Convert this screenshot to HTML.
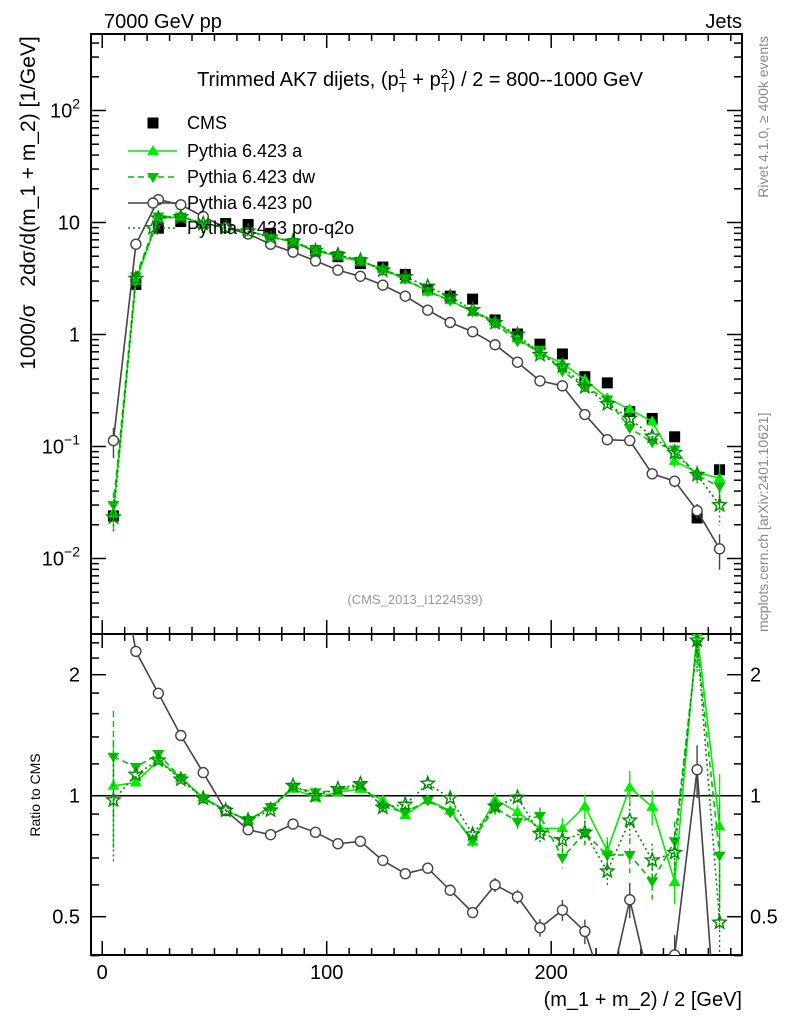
<!DOCTYPE html>
<html><head><meta charset="utf-8"><style>
html,body{margin:0;padding:0;background:#fff;width:786px;height:1024px;overflow:hidden}
svg{display:block;font-family:"Liberation Sans",sans-serif}
</style></head><body>
<svg id="c" width="786" height="1024" viewBox="0 0 786 1024">
<g>
<text x="104" y="28" font-size="20">7000 GeV pp</text>
<text x="742" y="28" font-size="20" text-anchor="end">Jets</text>
<text x="420" y="86" font-size="20" text-anchor="middle">Trimmed AK7 dijets, (p<tspan font-size="13" dy="-8">1</tspan><tspan font-size="13" dx="-7" dy="14">T</tspan><tspan dy="-6"> + p</tspan><tspan font-size="13" dy="-8">2</tspan><tspan font-size="13" dx="-7" dy="14">T</tspan><tspan dy="-6">) / 2 = 800--1000 GeV</tspan></text>
<text x="415" y="604" font-size="13" fill="#999" text-anchor="middle">(CMS_2013_I1224539)</text>
<text xml:space="preserve" style="white-space:pre" transform="translate(35,203) rotate(-90)" font-size="21" text-anchor="middle">1000/σ   2dσ/d(m_1 + m_2) [1/GeV]</text>
<text transform="translate(40,795) rotate(-90)" font-size="14" text-anchor="middle">Ratio to CMS</text>
<text x="742" y="1006" font-size="20" text-anchor="end">(m_1 + m_2) / 2 [GeV]</text>
<text transform="translate(768,36) rotate(-90)" font-size="14" fill="#888" text-anchor="end">Rivet 4.1.0, ≥ 400k events</text>
<text transform="translate(768,632) rotate(-90)" font-size="14" fill="#888">mcplots.cern.ch [arXiv:2401.10621]</text>
</g>
<g id="axes"></g>
<g id="marks"></g>
<g id="legend"></g>
</svg>
<script>
const xBins = [5,15,25,35,45,55,65,75,85,95,105,115,125,135,145,155,165,175,185,195,205,215,225,235,245,255,265,275];
const cmsVals = [0.024,2.8,8.9,10.2,9.9,9.8,9.6,8.0,6.4,5.6,4.95,4.3,4.0,3.44,2.5,2.2,2.07,1.35,1.01,0.82,0.67,0.42,0.37,0.205,0.178,0.122,0.023,0.062];
const aVals = [0.0254,3.02,10.9,11.3,9.8,9.0,8.35,7.5,6.66,5.54,5.05,4.47,3.9,3.08,2.44,2.02,1.59,1.32,0.92,0.68,0.556,0.395,0.27,0.215,0.167,0.0744,0.0587,0.052];
const dwVals = [0.030,3.30,11.3,11.3,9.75,9.0,8.35,7.5,6.72,5.71,5.10,4.56,3.76,3.13,2.43,2.0,1.61,1.26,0.87,0.73,0.47,0.34,0.263,0.146,0.109,0.094,0.055,0.044];
const p0Vals = [0.113,6.4,16.0,14.4,11.3,9.0,7.9,6.4,5.44,4.54,3.76,3.31,2.76,2.20,1.65,1.28,1.06,0.81,0.566,0.385,0.348,0.193,0.115,0.113,0.057,0.049,0.0267,0.0122];
const q2oVals = [0.0234,3.16,10.9,11.2,9.75,9.0,8.35,7.36,6.78,5.6,5.15,4.6,3.74,3.27,2.68,2.17,1.66,1.27,1.0,0.66,0.52,0.34,0.24,0.178,0.123,0.088,0.056,0.030];
const mcRelErr = [0.3,0.02,0.01,0.01,0.01,0.01,0.01,0.01,0.01,0.01,0.01,0.01,0.015,0.02,0.025,0.03,0.03,0.04,0.04,0.05,0.06,0.07,0.08,0.1,0.1,0.12,0.15,0.35];
const xTickLabels = ["0","100","200"];
const xTickVals = [0,100,200];
const mainTickVals = [100,10,1,0.1,0.01];
const mainTickLabels = ["10|2","10","1","10|−1","10|−2"];
const ratioTickVals = [2,1,0.5];
const ratioTickLabels = ["2","1","0.5"];

const NS="http://www.w3.org/2000/svg";
const L=91,R=742,T1=34,B1=634,T2=634,B2=955;
function xs(v){return L+(v+5)*(R-L)/290;}
function ym(v){return 222.5-112*(Math.log10(v)-1);}
function yr(v){return 795.7-121*Math.log2(v);}
function mk(tag,attrs,parent){const e=document.createElementNS(NS,tag);for(const k in attrs)e.setAttribute(k,attrs[k]);parent.appendChild(e);return e;}
const axes=document.getElementById('axes'), marks=document.getElementById('marks'), leg=document.getElementById('legend');

let f=mk('rect',{x:L,y:T1,width:R-L,height:B1-T1,fill:'none',stroke:'#000','stroke-width':2},axes);


f=mk('rect',{x:L,y:T2,width:R-L,height:B2-T2,fill:'none',stroke:'#000','stroke-width':2},axes);



for(let v=0;v<=280;v+=10){const x=xs(v);const len=(v%100===0)?14:7;
 [[B1,-1],[T1,1],[B2,-1],[T2,1]].forEach(([y,d])=>{mk('line',{x1:x,x2:x,y1:y,y2:y+d*len,stroke:'#000','stroke-width':1.5},axes);});}
xTickVals.forEach((v,i)=>{const t=mk('text',{x:xs(v),y:979,'font-size':20,'text-anchor':'middle'},axes);t.textContent=xTickLabels[i];
 
 });

for(let e=-3;e<=2;e++){for(let m=1;m<=9;m++){const v=m*Math.pow(10,e);const y=ym(v);if(y<T1||y>B1)continue;const len=m===1?15:8;
 mk('line',{x1:L,x2:L+len,y1:y,y2:y,stroke:'#000','stroke-width':1.5},axes);mk('line',{x1:R,x2:R-len,y1:y,y2:y,stroke:'#000','stroke-width':1.5},axes);}}
mainTickVals.forEach((v,i)=>{const y=ym(v);const parts=mainTickLabels[i].split('|');
 const t=mk('text',{x:80,y:y+7,'font-size':20,'text-anchor':'end'},axes);
 
 
 if(parts.length===1)t.textContent=parts[0];else{const a=mk('tspan',{},t);a.textContent=parts[0];const b=mk('tspan',{'font-size':14,dy:-9},t);b.textContent=parts[1];}});

[0.4,0.5,0.6,0.7,0.8,0.9,1,1.2,1.4,1.6,1.8,2,2.2,2.4].forEach(v=>{const y=yr(v);const len=(v===0.5||v===1||v===2)?15:8;
 mk('line',{x1:L,x2:L+len,y1:y,y2:y,stroke:'#000','stroke-width':1.5},axes);mk('line',{x1:R,x2:R-len,y1:y,y2:y,stroke:'#000','stroke-width':1.5},axes);});
ratioTickVals.forEach((v,i)=>{const y=yr(v);
 let t=mk('text',{x:80,y:y+7,'font-size':20,'text-anchor':'end'},axes);t.textContent=ratioTickLabels[i];
 
 
 t=mk('text',{x:750,y:y+7,'font-size':20},axes);t.textContent=ratioTickLabels[i];
 
 });
let ul=mk('line',{x1:L,x2:R,y1:yr(1),y2:yr(1),stroke:'#000','stroke-width':1.5},axes);



const defs=mk('defs',{},document.getElementById('c'));
const c1=mk('clipPath',{id:'cm'},defs);mk('rect',{x:L,y:T1,width:R-L,height:B1-T1},c1);
const c2=mk('clipPath',{id:'cr'},defs);mk('rect',{x:L,y:T2,width:R-L,height:B2-T2},c2);

function marker(type,x,y,col,g){
 if(type==='sq')return mk('rect',{x:x-5.5,y:y-5.5,width:11,height:11,fill:'#000'},g);
 if(type==='tu')return mk('polygon',{points:`${x},${y-6} ${x-6},${y+4} ${x+6},${y+4}`,fill:col},g);
 if(type==='td')return mk('polygon',{points:`${x},${y+6} ${x-6},${y-4} ${x+6},${y-4}`,fill:col},g);
 if(type==='ci')return mk('circle',{cx:x,cy:y,r:5,fill:'#fff',stroke:col,'stroke-width':1.4},g);
 if(type==='st'){let p=[];for(let k=0;k<10;k++){const r=k%2?3:7;const a=-Math.PI/2+k*Math.PI/5;p.push((x+r*Math.cos(a)).toFixed(1)+','+(y+r*Math.sin(a)).toFixed(1));}
  return mk('polygon',{points:p.join(' '),fill:'none',stroke:col,'stroke-width':1.4},g);}
}
const series=[
 {name:'pythia-a',vals:aVals,col:'#00ee00',dash:'',mk:'tu',label:'Pythia 6.423 a'},
 {name:'pythia-dw',vals:dwVals,col:'#00c000',dash:'6,4',mk:'td',label:'Pythia 6.423 dw'},
 {name:'pythia-p0',vals:p0Vals,col:'#444',dash:'',mk:'ci',label:'Pythia 6.423 p0'},
 {name:'pythia-pro-q2o',vals:q2oVals,col:'#008a00',dash:'2,3',mk:'st',label:'Pythia 6.423 pro-q2o'}];

function drawSeries(s,panel){
 const g=mk('g',{'clip-path':panel==='main'?'url(#cm)':'url(#cr)'},marks);
 
 
 const yf=panel==='main'?ym:yr;
 const vals=s.vals.map((v,i)=>panel==='main'?v:v/cmsVals[i]);
 const pts=vals.map((v,i)=>xs(xBins[i]).toFixed(1)+','+yf(v).toFixed(1)).join(' ');
 const pl=mk('polyline',{points:pts,fill:'none',stroke:s.col,'stroke-width':1.6,'stroke-dasharray':s.dash},g);
 
 
 vals.forEach((v,i)=>{const x=xs(xBins[i]);const e=v*mcRelErr[i];
  const lo=Math.max(v-e,v*0.2);
  const eb=mk('line',{x1:x,x2:x,y1:yf(v+e),y2:yf(lo),stroke:s.col,'stroke-width':1.4,'stroke-dasharray':s.dash},g);
  
  
  const m=marker(s.mk,x,yf(v),s.col,g);
  
  });
}
(function(){const g=mk('g',{'clip-path':'url(#cm)'},marks);
 
 
 cmsVals.forEach((v,i)=>{const m=marker('sq',xs(xBins[i]),ym(v),'#000',g);
  
  });})();
series.forEach(s=>{drawSeries(s,'main');drawSeries(s,'ratio');});

const rows=[123,151,177,203,228];
let lt=mk('text',{x:187,y:rows[0]+6,'font-size':18},leg);lt.textContent='CMS';


let lm=marker('sq',153,rows[0],'#000',leg);


series.forEach((s,i)=>{const y=rows[i+1];
 const ln=mk('line',{x1:128,x2:177,y1:y,y2:y,stroke:s.col,'stroke-width':1.6,'stroke-dasharray':s.dash},leg);
 
 
 const m=marker(s.mk,153,y,s.col,leg);
 
 
 const t=mk('text',{x:187,y:y+6,'font-size':18},leg);t.textContent=s.label;
 
 });
</script>
</body></html>
